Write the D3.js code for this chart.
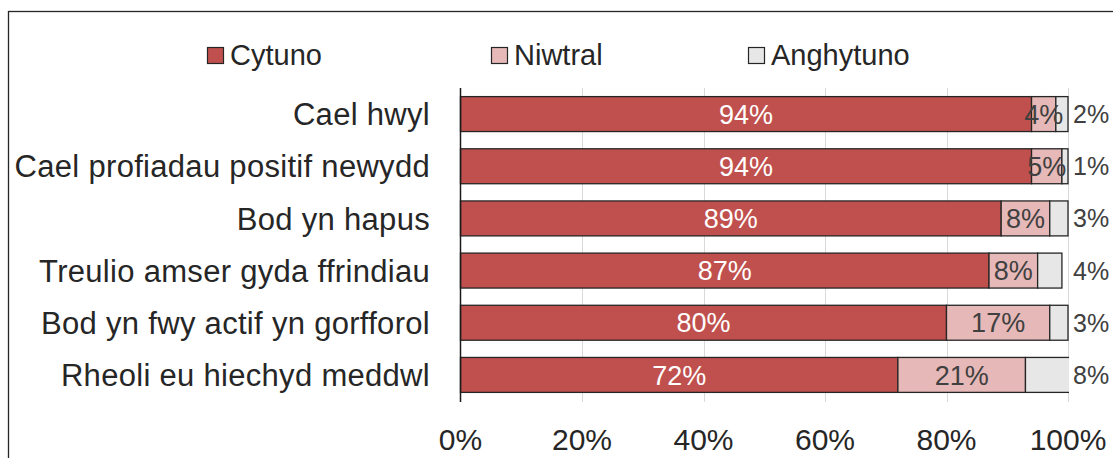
<!DOCTYPE html>
<html>
<head>
<meta charset="utf-8">
<script src="https://cdn.jsdelivr.net/npm/d3@7"></script>
<style>
  html, body { margin: 0; padding: 0; background: #ffffff; }
  svg { display: block; font-family: "Liberation Sans", Arial, sans-serif; }
</style>
</head>
<body>
<svg id="chart" width="1113" height="458"></svg>
<script>
const categories = ["Cael hwyl", "Cael profiadau positif newydd", "Bod yn hapus", "Treulio amser gyda ffrindiau", "Bod yn fwy actif yn gorfforol", "Rheoli eu hiechyd meddwl"];
const cytuno = [94, 94, 89, 87, 80, 72];
const niwtral = [4, 5, 8, 8, 17, 21];
const anghytuno = [2, 1, 3, 4, 3, 8];
const seriesNames = ["Cytuno", "Niwtral", "Anghytuno"];
const tickValues = [0, 20, 40, 60, 80, 100];

const colors = { "Cytuno": "#C0504D", "Niwtral": "#E6B9B8", "Anghytuno": "#E7E7E7" };
const labelColors = { "Cytuno": "#ffffff", "Niwtral": "#404040", "Anghytuno": "#404040" };

const svg = d3.select("#chart");
const textColor = "#262626";

// outer border
svg.append("rect").attr("x", 8.5).attr("y", 11.5).attr("width", 1200).attr("height", 500)
  .attr("fill", "#fff").attr("stroke", "#262626").attr("stroke-width", 1.3);

const x = d3.scaleLinear().domain([0, 100]).range([460.5, 1068]);
const y = d3.scaleBand().domain(categories).range([88, 401]).paddingInner(0.33).paddingOuter(0.165);

// clip bars at the plot area (axis max 100%)
svg.append("defs").append("clipPath").attr("id", "plotclip")
  .append("rect").attr("x", x(0) - 2).attr("y", 80).attr("width", x(100) - x(0) + 3).attr("height", 330);

// gridlines
svg.append("g").selectAll("line").data(tickValues.filter(d => d > 0)).join("line")
  .attr("x1", d => Math.round(x(d)) + 0.5).attr("x2", d => Math.round(x(d)) + 0.5)
  .attr("y1", 88).attr("y2", 402)
  .attr("stroke", "#d9d9d9").attr("stroke-width", 1);

// stacked data
const rows = categories.map((c, i) => ({ cat: c, Cytuno: cytuno[i], Niwtral: niwtral[i], Anghytuno: anghytuno[i] }));
const stack = d3.stack().keys(seriesNames)(rows);

const g = svg.append("g").attr("clip-path", "url(#plotclip)");
stack.forEach(layer => {
  const key = layer.key;
  g.append("g").selectAll("rect").data(layer).join("rect")
    .attr("x", d => x(d[0]))
    .attr("y", d => y(d.data.cat))
    .attr("width", d => x(d[1]) - x(d[0]))
    .attr("height", y.bandwidth())
    .attr("fill", colors[key])
    .attr("stroke", "#262626").attr("stroke-width", 1.3);
});

// axis line at 0
svg.append("line").attr("x1", 460.5).attr("x2", 460.5).attr("y1", 88).attr("y2", 402)
  .attr("stroke", "#1a1a1a").attr("stroke-width", 1.5);

// data labels
const lbl = svg.append("g");
stack.forEach(layer => {
  const key = layer.key;
  const size = key === "Anghytuno" ? 25 : 27;
  lbl.append("g").selectAll("text").data(layer).join("text")
    .attr("x", d => key === "Anghytuno" ? x(100) + 5 : (x(d[0]) + x(d[1])) / 2)
    .attr("y", d => y(d.data.cat) + y.bandwidth() / 2 + size * 0.36)
    .attr("text-anchor", key === "Anghytuno" ? "start" : "middle")
    .attr("font-size", size)
    .attr("fill", labelColors[key])
    .text(d => (d.data[key]) + "%");
});

// category labels
svg.append("g").selectAll("text").data(categories).join("text")
  .attr("x", 430)
  .attr("y", d => y(d) + y.bandwidth() / 2 + 31 * 0.36)
  .attr("text-anchor", "end")
  .attr("font-size", 31)
  .attr("letter-spacing", 0.3)
  .attr("fill", textColor)
  .text(d => d);

// x tick labels
svg.append("g").selectAll("text").data(tickValues).join("text")
  .attr("x", d => x(d))
  .attr("y", 450)
  .attr("text-anchor", "middle")
  .attr("font-size", 30)
  .attr("fill", textColor)
  .text(d => d + "%");

// legend
const legendX = [207, 491, 748];
const leg = svg.append("g");
seriesNames.forEach((s, i) => {
  leg.append("rect").attr("x", legendX[i] + 0.5).attr("y", 47.5).attr("width", 16).attr("height", 16)
    .attr("fill", colors[s]).attr("stroke", "#262626").attr("stroke-width", 1.2);
  leg.append("text").attr("x", legendX[i] + 23).attr("y", 65)
    .attr("font-size", 29).attr("fill", textColor).text(s);
});
</script>
</body>
</html>
